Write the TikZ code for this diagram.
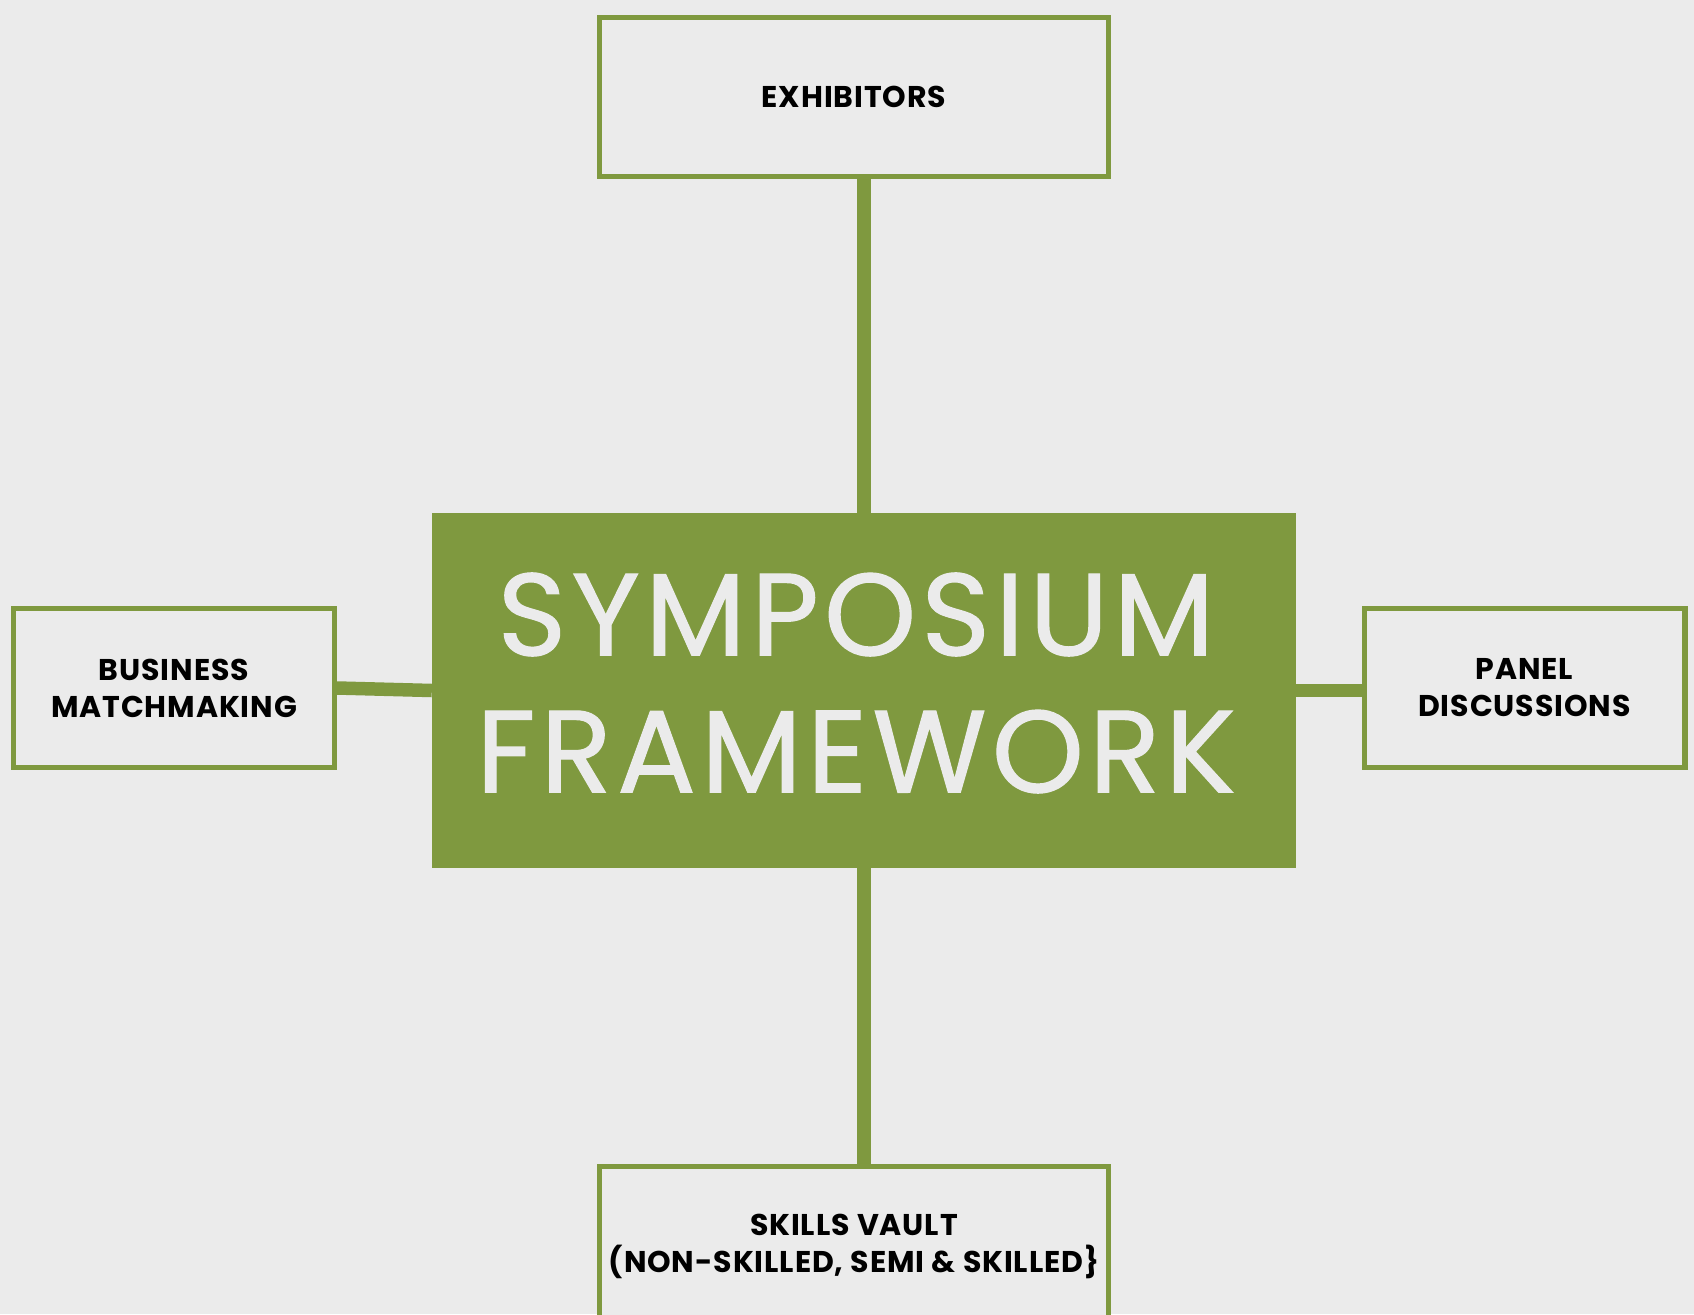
\documentclass[tikz,border=0pt]{standalone}
\usepackage{fontspec}
\setmainfont{Poppins}
\definecolor{grn}{RGB}{127,153,63}
\definecolor{bg}{RGB}{235,235,235}
\begin{document}
\begin{tikzpicture}[x=1pt,y=-1pt,
  outbox/.style={draw=grn,line width=5.4pt,fill=bg,minimum width=320.6pt,minimum height=158.6pt,inner sep=0pt,align=center,text=black,font=\fontsize{30}{37}\selectfont\bfseries\addfontfeature{LetterSpace=3}},
  widebox/.style={outbox,minimum width=509pt},
  corebox/.style={fill=grn,minimum width=864pt,minimum height=355pt,inner sep=0pt},
  coretext/.style={text=bg,align=center,inner sep=0pt,font=\fontsize{117}{137}\selectfont\addfontfeature{LetterSpace=4.5,FakeBold=1}},
  link/.style={draw=grn,line width=13.5pt},
]
\useasboundingbox (0,0) rectangle (1694,1314);
\fill[bg] (0,0) rectangle (1694,1314);
\clip (0,0) rectangle (1694,1314);

\node[corebox] (c) at (864,690.5) {};
\node[coretext] (ct) at (856,683) {SYMPOSIUM\\FRAMEWORK};

\node[widebox] (t) at (854,97) {EXHIBITORS};
\node[widebox] (b) at (854,1246) {SKILLS VAULT\\(NON-SKILLED, SEMI \& SKILLED\}};
\node[outbox] (l) at (174,688) {BUSINESS\\MATCHMAKING};
\node[outbox] (r) at (1524.5,688) {PANEL\\DISCUSSIONS};

\draw[link] (c.north) -- (c.north |- t.south);
\draw[link] (c.south) -- (c.south |- b.north);
\draw[link] (l.east) -- (c.west);
\draw[link] (c.east) -- (c.east -| r.west);
\end{tikzpicture}
\end{document}
